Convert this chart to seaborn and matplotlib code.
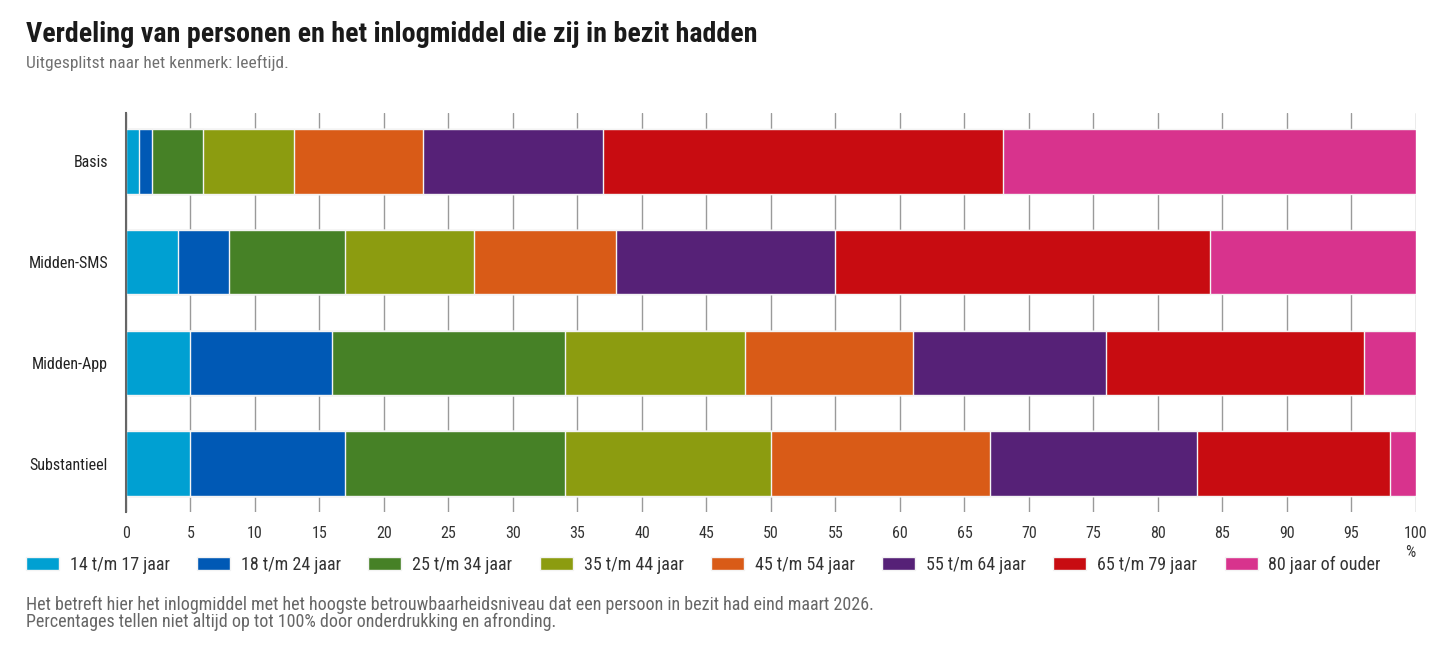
import matplotlib
matplotlib.use("Agg")
import matplotlib.pyplot as plt
from matplotlib.patches import Patch
import numpy as np
import seaborn as sns

# data (percent per age group)
categories = ["Basis", "Midden-SMS", "Midden-App", "Substantieel"]
age_groups = ["14 t/m 17 jaar", "18 t/m 24 jaar", "25 t/m 34 jaar", "35 t/m 44 jaar",
              "45 t/m 54 jaar", "55 t/m 64 jaar", "65 t/m 79 jaar", "80 jaar of ouder"]
basis = [1, 1, 4, 7, 10, 14, 31, 32]
midden_sms = [4, 4, 9, 10, 11, 17, 29, 16]
midden_app = [5, 11, 18, 14, 13, 15, 20, 4]
substantieel = [5, 12, 17, 16, 17, 16, 15, 2]
colors = ["#00a0d2", "#0059b5", "#468126", "#8c9c10",
          "#d95b17", "#562177", "#c80c11", "#d8338d"]
xticks = list(range(0, 101, 5))

values = np.array([basis, midden_sms, midden_app, substantieel], dtype=float)
cum = values.cumsum(axis=1)

sns.set_style("white")
plt.rcParams["font.family"] = ["Roboto Condensed", "Roboto", "DejaVu Sans"]

fig = plt.figure(figsize=(14.4, 6.57), dpi=100)
ax = fig.add_axes([0.0875, 0.2207, 0.8958, 0.6073])

# stacked bars: draw the running totals from largest to smallest
for k in range(len(age_groups) - 1, -1, -1):
    sns.barplot(x=cum[:, k], y=categories, color=colors[k], orient="h",
                width=0.64, edgecolor="#f4f4f4", linewidth=1, saturation=1,
                ax=ax, zorder=3)

ax.set_xlim(0, 100)
ax.set_ylim(3.48, -0.48)
ax.set_xticks(xticks)
ax.set_xticklabels([str(t) for t in xticks])
ax.grid(axis="x", color="#9a9a9a", lw=1)
ax.set_axisbelow(True)
for s in ["top", "right", "bottom"]:
    ax.spines[s].set_visible(False)
ax.spines["left"].set_color("#666666")
ax.spines["left"].set_linewidth(1.5)
ax.spines["left"].set_zorder(4)
ax.tick_params(axis="x", length=0, pad=10, labelsize=11.5, colors="#333333")
ax.tick_params(axis="y", length=0, pad=13, labelsize=11.5, colors="#222222")
ax.set_xlabel("")
ax.set_ylabel("")
ax.annotate("%", xy=(100, 0), xycoords=("data", "axes fraction"),
            xytext=(-4, -29), textcoords="offset points",
            ha="center", va="center", fontsize=11.5, color="#333333")

handles = [Patch(facecolor=c, edgecolor="#f4f4f4", label=g) for c, g in zip(colors, age_groups)]
fig.legend(handles=handles, loc="center left", bbox_to_anchor=(0.018, 0.14),
           ncol=8, frameon=False, fontsize=13, handlelength=1.83, handleheight=0.72,
           handletextpad=0.6, columnspacing=1.52, borderpad=0, borderaxespad=0,
           labelcolor="#333333")

fig.text(0.018, 0.947, "Verdeling van personen en het inlogmiddel die zij in bezit hadden",
         fontsize=20.2, fontweight="bold", color="#1a1a1a", va="center", ha="left")
fig.text(0.018, 0.904, "Uitgesplitst naar het kenmerk: leeftijd.",
         fontsize=12.5, color="#707070", va="center", ha="left")
fig.text(0.018, 0.079, "Het betreft hier het inlogmiddel met het hoogste betrouwbaarheidsniveau "
         "dat een persoon in bezit had eind maart 2026.",
         fontsize=13, color="#666666", va="center", ha="left")
fig.text(0.018, 0.053, "Percentages tellen niet altijd op tot 100% door onderdrukking en afronding.",
         fontsize=13, color="#666666", va="center", ha="left")

fig.savefig("out.png", dpi=100, facecolor="white")
